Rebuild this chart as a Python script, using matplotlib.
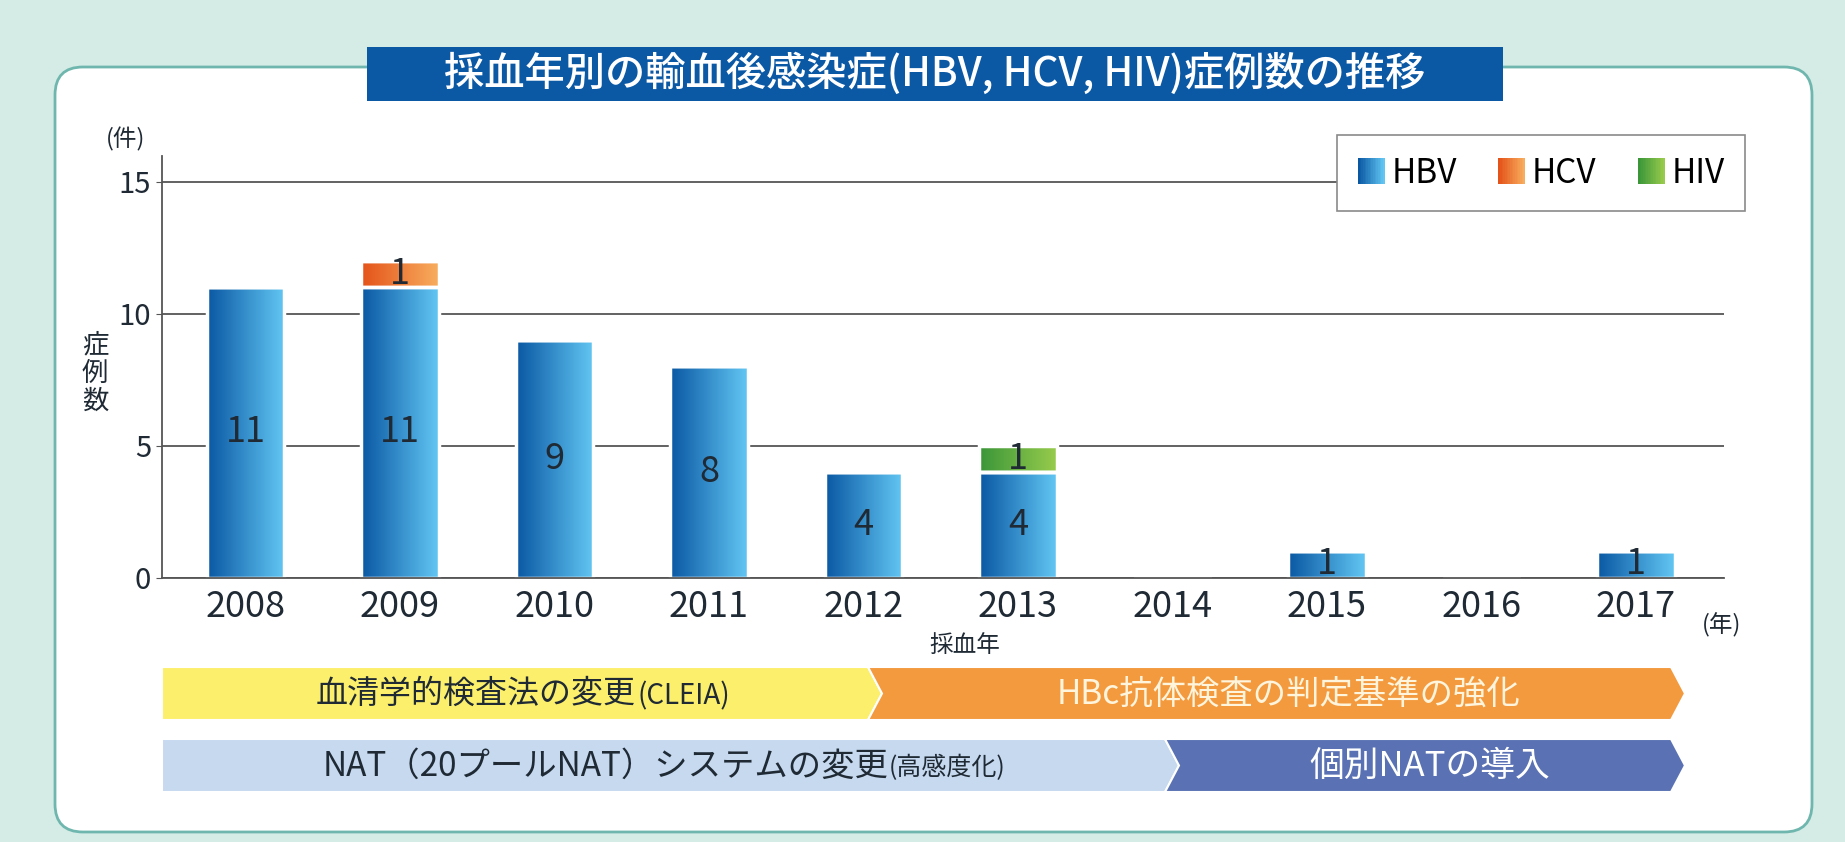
import numpy as np
import matplotlib.pyplot as plt
from matplotlib.patches import FancyBboxPatch, Polygon, Rectangle
from matplotlib.colors import LinearSegmentedColormap
from matplotlib.legend_handler import HandlerBase

plt.rcParams['font.family'] = ['Noto Sans CJK JP', 'DejaVu Sans']

years = ['2008', '2009', '2010', '2011', '2012', '2013', '2014', '2015', '2016', '2017']
hbv = [11, 11, 9, 8, 4, 4, 0, 1, 0, 1]
hcv = [0, 1, 0, 0, 0, 0, 0, 0, 0, 0]
hiv = [0, 0, 0, 0, 0, 1, 0, 0, 0, 0]
series = ['HBV', 'HCV', 'HIV']
grad = {'HBV': ('#0a58a3', '#62c6f3'),
        'HCV': ('#e4531a', '#f8ad5e'),
        'HIV': ('#3a9639', '#97cb4c')}

title = '採血年別の輸血後感染症(HBV, HCV, HIV)症例数の推移'
text_dark = '#1f2a35'

fig = plt.figure(figsize=(18.45, 8.42), dpi=100)
fig.patch.set_facecolor('#d5ece6')

# background layer in pixel coordinates
bg = fig.add_axes([0, 0, 1, 1])
bg.set_xlim(0, 1845)
bg.set_ylim(842, 0)
bg.axis('off')
bg.add_patch(FancyBboxPatch((55, 67), 1757, 765, boxstyle='round,pad=0,rounding_size=28',
                            fc='white', ec='#6fb7ae', lw=2))
bg.add_patch(Rectangle((367, 47), 1136, 54, fc='#0b58a5', ec='none'))
bg.text(935, 74, title, color='white', fontsize=29, fontweight='medium', ha='center', va='center')

# timeline arrows
def arrow(x0, x1, top, bot, d, notch, fc):
    mid = (top + bot) / 2
    pts = [(x0, top), (x1, top), (x1 + d, mid), (x1, bot), (x0, bot)]
    if notch:
        pts.append((x0 + d, mid))
    bg.add_patch(Polygon(pts, closed=True, fc=fc, ec='white', lw=1.5))

arrow(162, 868, 667, 720, 14, False, '#fcef6c')
arrow(868, 1671, 667, 720, 14, True, '#f39a3f')
arrow(162, 1165, 739, 792, 14, False, '#c6d9ef')
arrow(1165, 1671, 739, 792, 14, True, '#5a72b3')

bg.text(636, 694, '血清学的検査法の変更', fontsize=23, color=text_dark, ha='right', va='center')
bg.text(638, 696, '(CLEIA)', fontsize=20, color=text_dark, ha='left', va='center')
bg.text(1289, 694, 'HBc抗体検査の判定基準の強化', fontsize=24, color='#fff4dc', ha='center', va='center')
bg.text(889, 766, 'NAT（20プールNAT）システムの変更', fontsize=24, color=text_dark, ha='right', va='center')
bg.text(889, 768, '(高感度化)', fontsize=18, color=text_dark, ha='left', va='center')
bg.text(1430, 766, '個別NATの導入', fontsize=25, color='white', ha='center', va='center')

bg.text(126, 139, '(件)', fontsize=17, color=text_dark, ha='center', va='center')
bg.text(95, 373, '症\n例\n数', fontsize=19, color=text_dark, ha='center', va='center', linespacing=1.05)
bg.text(965, 646, '採血年', fontsize=17, color=text_dark, ha='center', va='center')
bg.text(1722, 625, '(年)', fontsize=17, color=text_dark, ha='center', va='center')

# main chart
ax = fig.add_axes([162 / 1845, (842 - 577.7) / 842, (1724 - 162) / 1845, (577.7 - 156) / 842])
ax.patch.set_alpha(0)
x = np.arange(len(years))
width = 0.5

bottoms = np.zeros(len(years))
for name, vals in zip(series, [hbv, hcv, hiv]):
    cont = ax.bar(x, vals, width, bottom=bottoms, color='none', edgecolor='white', lw=2.5, zorder=3)
    cmap = LinearSegmentedColormap.from_list(name, grad[name])
    for p, v in zip(cont.patches, vals):
        if v == 0:
            continue
        bx, by, bw, bh = p.get_x(), p.get_y(), p.get_width(), p.get_height()
        ax.imshow(np.linspace(0, 1, 64).reshape(1, -1), cmap=cmap, aspect='auto',
                  extent=[bx, bx + bw, by, by + bh], zorder=2, interpolation='bilinear')
    labels = [str(v) if v else '' for v in vals]
    ax.bar_label(cont, labels=labels, label_type='center', fontsize=26, color=text_dark, zorder=5)
    bottoms += np.array(vals)

ax.set_xlim(-0.54, 9.57)
ax.set_ylim(0, 15.97)
ax.set_yticks([0, 5, 10, 15])
ax.set_xticks(x)
ax.set_xticklabels(years)
ax.yaxis.grid(True, color='#555555', lw=1.3)
ax.set_axisbelow(True)
for s in ['top', 'right']:
    ax.spines[s].set_visible(False)
for s in ['left', 'bottom']:
    ax.spines[s].set_color('#555555')
    ax.spines[s].set_linewidth(1.3)
    ax.spines[s].set_zorder(4)
ax.tick_params(axis='x', length=0, labelsize=26, pad=8, labelcolor=text_dark)
ax.tick_params(axis='y', length=4, color='#555555', labelsize=21, pad=4, labelcolor=text_dark)

# legend with gradient keys
class GradKey:
    def __init__(self, c0, c1):
        self.c0, self.c1 = c0, c1

class GradHandler(HandlerBase):
    def create_artists(self, legend, h, xd, yd, w, hgt, fs, trans):
        cmap = LinearSegmentedColormap.from_list('k', [h.c0, h.c1])
        n = 16
        return [Rectangle((-xd + w * k / n, -yd), w / n * 1.08, hgt, fc=cmap(k / (n - 1)),
                          ec='none', transform=trans) for k in range(n)]

keys = [GradKey(*grad[s]) for s in series]
leg = fig.legend(keys, series, handler_map={GradKey: GradHandler()}, ncol=3,
                 loc='upper right', bbox_to_anchor=(1745 / 1845, 1 - 135 / 842),
                 borderaxespad=0, fontsize=24, frameon=True, fancybox=False,
                 edgecolor='#8a8a8a', framealpha=1,
                 handlelength=0.8, handleheight=0.8, handletextpad=0.2, columnspacing=1.25,
                 borderpad=0.62)
leg.get_frame().set_linewidth(1.2)

fig.savefig('out.png', dpi=100, facecolor=fig.get_facecolor())
